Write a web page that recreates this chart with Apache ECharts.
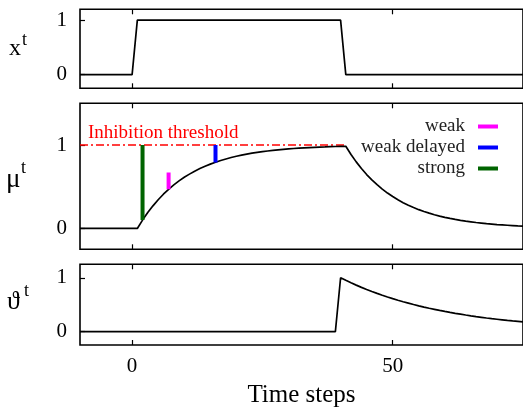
<!DOCTYPE html>
<html>
<head>
<meta charset="utf-8">
<script src="https://cdn.jsdelivr.net/npm/echarts@6/dist/echarts.min.js"></script>
<style>
html,body{margin:0;padding:0;background:#fff;}
#chart{width:523px;height:414px;}
</style>
</head>
<body>
<div id="chart"></div>
<script>
// ---- data ----
const xTicks = [0, 50];
const yTicks = [0, 1];

// input x^t (breakpoints)
const xT = [-10, 0, 1, 40, 41, 75];
const xV = [0, 0, 1, 1, 0, 0];

// mu^t
const muT = [-10, 1, 2, 3, 4, 5, 6, 7, 8, 9, 10, 11, 12, 13, 14, 15, 16, 17, 18, 19, 20,
  21, 22, 23, 24, 25, 26, 27, 28, 29, 30, 31, 32, 33, 34, 35, 36, 37, 38, 39, 40,
  41, 42, 43, 44, 45, 46, 47, 48, 49, 50, 51, 52, 53, 54, 55, 56, 57, 58, 59, 60,
  61, 62, 63, 64, 65, 66, 67, 68, 69, 70, 71, 72, 73, 74, 75];
const muV = [0, 0, 0.1, 0.19, 0.271, 0.344, 0.41, 0.469, 0.522, 0.57, 0.613, 0.651, 0.686, 0.718, 0.746, 0.771, 0.794, 0.815, 0.833, 0.85, 0.865,
  0.878, 0.891, 0.902, 0.911, 0.92, 0.928, 0.935, 0.942, 0.948, 0.953, 0.958, 0.962, 0.966, 0.969, 0.972, 0.975, 0.977, 0.98, 0.982, 0.984,
  0.985, 0.887, 0.798, 0.718, 0.646, 0.582, 0.524, 0.471, 0.424, 0.382, 0.343, 0.309, 0.278, 0.25, 0.225, 0.203, 0.183, 0.164, 0.148, 0.133,
  0.12, 0.108, 0.097, 0.087, 0.079, 0.071, 0.064, 0.057, 0.052, 0.046, 0.042, 0.038, 0.034, 0.03, 0.027];

// theta^t
const thT = [-10, 39, 40, 41, 42, 43, 44, 45, 46, 47, 48, 49, 50, 51, 52, 53, 54, 55, 56, 57, 58,
  59, 60, 61, 62, 63, 64, 65, 66, 67, 68, 69, 70, 71, 72, 73, 74, 75];
const thV = [0, 0, 1, 0.952, 0.906, 0.863, 0.821, 0.782, 0.744, 0.709, 0.675, 0.642, 0.611, 0.582, 0.554, 0.528, 0.502, 0.478, 0.455, 0.433, 0.413,
  0.393, 0.374, 0.356, 0.339, 0.323, 0.307, 0.292, 0.278, 0.265, 0.252, 0.24, 0.229, 0.218, 0.207, 0.197, 0.188, 0.179];

// inhibition threshold
const thrT = [-10, 41];
const thrV = [1, 1];

// stimuli (vertical bars): time, bottom, top
const weakBar = { t: 7, lo: 0.47, hi: 0.67 };
const delayedBar = { t: 16, lo: 0.79, hi: 1.0 };
const strongBar = { t: 2, lo: 0.1, hi: 1.0 };

// axis titles (base symbol + superscript)
const yBase = ['x', 'μ', 'ϑ'];
const ySup = ['t', 't', 't'];

const zip = (a, b) => a.map((v, i) => [v, b[i]]);
const barPts = b => [[b.t, b.lo], [b.t, b.hi]];

const FONT = "'Liberation Serif', 'DejaVu Serif', serif";

const grids = [
  { left: 80, right: -1, top: 9.3, height: 79 },
  { left: 80, right: -1, top: 103.3, height: 146 },
  { left: 80, right: -1, top: 264.3, height: 80.7 }
].map(g => Object.assign(g, { show: true, borderColor: '#000', borderWidth: 1.6, containLabel: false }));

const xAxes = [];
for (let i = 0; i < 3; i++) {
  ['bottom', 'top'].forEach(pos => {
    xAxes.push({
      type: 'value', gridIndex: i, position: pos, min: -10, max: 75,
      axisLine: { show: false, onZero: false },
      splitLine: { show: false },
      axisTick: { show: true, inside: true, length: 5, customValues: xTicks, lineStyle: { color: '#000', width: 1.2 } },
      axisLabel: {
        show: (i === 2 && pos === 'bottom'), customValues: xTicks, margin: 11,
        color: '#000', fontSize: 21, fontFamily: FONT
      },
      name: (i === 2 && pos === 'bottom') ? 'Time steps' : '',
      nameLocation: 'middle', nameGap: 38,
      nameTextStyle: { color: '#000', fontSize: 25, fontFamily: FONT }
    });
  });
}

const yRanges = [[-0.25, 1.2], [-0.25, 1.5], [-0.25, 1.25]];
const yAxes = yRanges.map((r, i) => ({
  type: 'value', gridIndex: i, min: r[0], max: r[1],
  axisLine: { show: false, onZero: false },
  splitLine: { show: false },
  axisTick: { show: true, inside: true, length: 5, customValues: yTicks, lineStyle: { color: '#000', width: 1.2 } },
  axisLabel: { customValues: yTicks, margin: 13, color: '#000', fontSize: 21, fontFamily: FONT }
}));

// title glyph anchors (pixel layout of the axis titles)
const titleLayout = [
  { bx: 9, by: 49, bs: 24, sx: 22, sy: 40 },
  { bx: 6, by: 180, bs: 27, sx: 21, sy: 168 },
  { bx: 7, by: 302, bs: 26, sx: 24, sy: 291 }
];
const titleGraphics = [];
titleLayout.forEach((p, i) => {
  titleGraphics.push({ type: 'text', x: p.bx, y: p.by,
    style: { text: yBase[i], fill: '#000', font: p.bs + "px " + FONT, verticalAlign: 'middle', align: 'left' } });
  titleGraphics.push({ type: 'text', x: p.sx, y: p.sy,
    style: { text: ySup[i], fill: '#000', font: "18px " + FONT, verticalAlign: 'middle', align: 'left' } });
});

const lineBase = { type: 'line', showSymbol: false, symbol: 'none', animation: false, silent: true };

const option = {
  animation: false,
  backgroundColor: '#fff',
  grid: grids,
  xAxis: xAxes,
  yAxis: yAxes,
  legend: {
    data: ['weak', 'weak delayed', 'strong'],
    orient: 'vertical', right: 20, top: 112, align: 'right',
    itemWidth: 20, itemHeight: 4, itemGap: 2, icon: 'rect',
    textStyle: { color: '#222', fontSize: 19, fontFamily: FONT, padding: [0, 8, 0, 0] },
    selectedMode: false
  },
  graphic: [{
    type: 'text', left: 88, top: 124,
    style: { text: 'Inhibition threshold', fill: '#ff0000', font: "19px " + FONT }
  }].concat(titleGraphics),
  series: [
    Object.assign({}, lineBase, { name: 'x', xAxisIndex: 0, yAxisIndex: 0, data: zip(xT, xV),
      lineStyle: { color: '#000', width: 1.7 } }),
    Object.assign({}, lineBase, { name: 'threshold', xAxisIndex: 2, yAxisIndex: 1, data: zip(thrT, thrV),
      lineStyle: { color: '#ff0000', width: 1.4, type: [8, 3, 2, 3] } }),
    Object.assign({}, lineBase, { name: 'mu', xAxisIndex: 2, yAxisIndex: 1, data: zip(muT, muV),
      lineStyle: { color: '#000', width: 1.7 } }),
    Object.assign({}, lineBase, { name: 'weak', xAxisIndex: 2, yAxisIndex: 1, data: barPts(weakBar),
      itemStyle: { color: '#ff00ff' }, lineStyle: { color: '#ff00ff', width: 4, cap: 'butt' } }),
    Object.assign({}, lineBase, { name: 'weak delayed', xAxisIndex: 2, yAxisIndex: 1, data: barPts(delayedBar),
      itemStyle: { color: '#0000ff' }, lineStyle: { color: '#0000ff', width: 4, cap: 'butt' } }),
    Object.assign({}, lineBase, { name: 'strong', xAxisIndex: 2, yAxisIndex: 1, data: barPts(strongBar),
      itemStyle: { color: '#006400' }, lineStyle: { color: '#006400', width: 4, cap: 'butt' } }),
    Object.assign({}, lineBase, { name: 'theta', xAxisIndex: 4, yAxisIndex: 2, data: zip(thT, thV),
      lineStyle: { color: '#000', width: 1.7 } })
  ]
};

const chart = echarts.init(document.getElementById('chart'), null, { renderer: 'canvas' });
chart.setOption(option);
</script>
</body>
</html>
